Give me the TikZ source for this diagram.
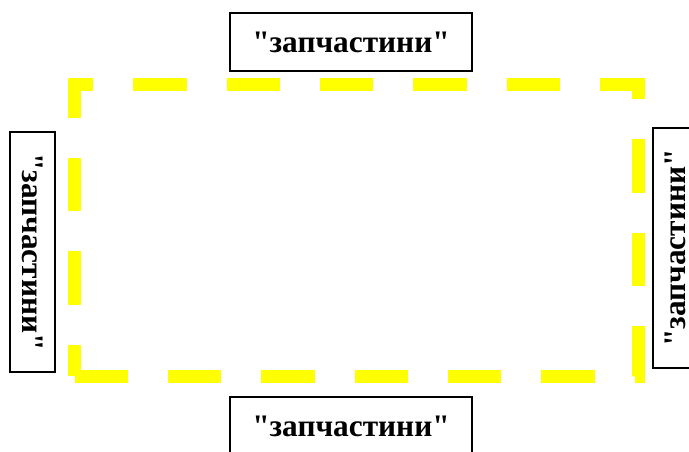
\documentclass[tikz,border=0pt]{standalone}
\usepackage{fontspec}
\setmainfont{Liberation Serif}
\usetikzlibrary{positioning}
\definecolor{frameyellow}{HTML}{FFFF00}
\newcommand{\sparestext}{\textquotedbl запчастини\textquotedbl}

\begin{document}
\begin{tikzpicture}[x=0.75pt,y=-0.75pt,
  partbox/.style={draw=black,line width=1.5pt,inner sep=0pt,
    font=\fontsize{23.5}{28}\selectfont\bfseries},
  hbox/.style={partbox,minimum width=181.5pt,minimum height=43.5pt},
  vbox/.style={partbox,minimum width=180pt,minimum height=33.75pt},
  frame/.style={draw=frameyellow,line width=9.75pt,
    dash pattern=on 40.1pt off 29.9pt,dash phase=16.5pt,line join=miter}]
\useasboundingbox (0,0) rectangle (689,451);
% yellow frame corners
\coordinate (bl) at (74,376);
\coordinate (tl) at (74,84);
\coordinate (tr) at (638,84);
\coordinate (br) at (638,376);
\draw[frame] (bl) -- (tl) -- (tr) -- (br) -- (bl);
% labels round the frame
\node[hbox] (partTop) at (351,42) {\sparestext};
\node[hbox] (partBottom) at (351,426) {\sparestext};
\node[vbox,rotate=-90] (partLeft) at (32.5,252) {\sparestext};
\node[vbox,rotate=90] (partRight) at (675.5,248) {\sparestext};
\end{tikzpicture}
\end{document}
